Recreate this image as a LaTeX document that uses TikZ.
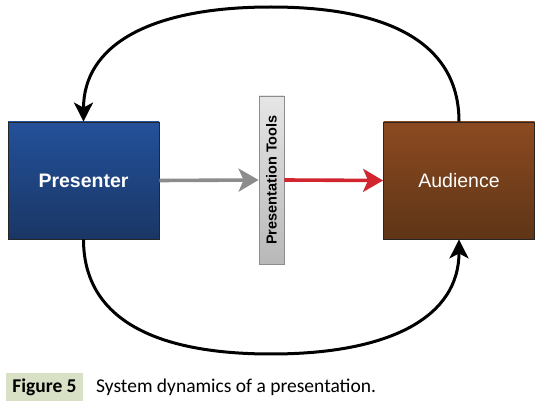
\documentclass[tikz,border=0pt]{standalone}
\usepackage{fontspec}
\setmainfont{Liberation Sans}
\newfontfamily\captionfont{Carlito}
\usetikzlibrary{arrows.meta}

\definecolor{presTop}{HTML}{23519A}
\definecolor{presBot}{HTML}{1A3665}
\definecolor{audTop}{HTML}{8C4A21}
\definecolor{audBot}{HTML}{5E3516}
\definecolor{toolTop}{HTML}{E6E6E6}
\definecolor{toolBot}{HTML}{B8B8B8}
\definecolor{flowGray}{HTML}{8C8C8C}
\definecolor{flowRed}{HTML}{D1252F}
\definecolor{capGreen}{HTML}{D8E0C6}

\tikzset{
  actor/.style={draw=black!85,line width=0.8pt,minimum width=151pt,minimum height=117pt,
    text=white,font=\fontsize{19.5}{22}\selectfont},
  toolbar/.style={draw=black!45,line width=0.8pt,minimum width=25pt,minimum height=168pt,
    top color=toolTop,bottom color=toolBot,inner sep=0pt},
  feedback/.style={line width=3pt,-{Stealth[length=19pt,width=19pt,inset=5pt]}},
  flow/.style={line width=3.6pt,-{Stealth[length=20pt,width=23pt,inset=5pt]}}
}

\begin{document}
\begin{tikzpicture}[x=1pt,y=-1pt]
\useasboundingbox (0,0) rectangle (542,409);

% Boxes
\node[actor,top color=presTop,bottom color=presBot,font=\fontsize{19.5}{22}\selectfont\bfseries] (presenter) at (83.5,180.5) {Presenter};
\node[actor,top color=audTop,bottom color=audBot] (audience) at (459,180.5) {Audience};
\node[toolbar] (tools) at (271.5,180) {};
\node[rotate=90,font=\fontsize{14.5}{16}\selectfont\bfseries] (toolsText) at (tools) {Presentation Tools};

% Forward flow
\draw[flow,flowGray] (presenter.east) -- (tools.west);
\draw[flow,flowRed] (tools.east) -- (audience.west);

% Feedback loops
\coordinate (top) at (271,7);
\coordinate (bottom) at (271,354);
\draw[feedback] (audience.north) .. controls +(0,-76) and +(122,0) .. (top)
  .. controls +(-122,0) and +(0,-76) .. (presenter.north);
\draw[feedback] (presenter.south) .. controls +(0,76) and +(-122,0) .. (bottom)
  .. controls +(122,0) and +(0,76) .. (audience.south);

% Caption
\node[fill=capGreen,minimum width=77pt,minimum height=28pt,inner sep=0pt,
  font=\captionfont\fontsize{19.5}{22}\selectfont\bfseries] (figLabel) at (44.5,387) {Figure 5};
\node[anchor=west,inner sep=0pt,font=\captionfont\fontsize{19.5}{22}\selectfont] (figText)
  at (96,387) {System dynamics of a presentation.};
\end{tikzpicture}
\end{document}
